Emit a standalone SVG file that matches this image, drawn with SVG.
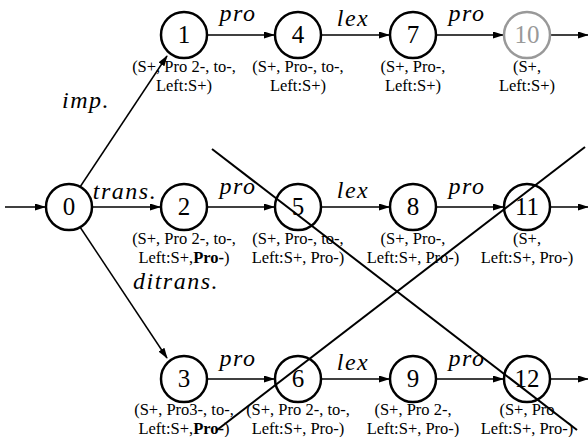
<svg xmlns="http://www.w3.org/2000/svg" width="588" height="437" viewBox="0 0 588 437">
<defs>
<marker id="ah" markerWidth="11" markerHeight="7" refX="10" refY="3.5" orient="auto" markerUnits="userSpaceOnUse">
<path d="M0,0 L11,3.5 L0,7 z" fill="#000"/>
</marker>
<style>
.n{fill:#fff;stroke:#000;stroke-width:2.5}
.g{fill:#fff;stroke:#999;stroke-width:2.5}
.d{font-family:"Liberation Serif",serif;font-size:25px;text-anchor:middle;fill:#000}
.dg{font-family:"Liberation Serif",serif;font-size:25px;text-anchor:middle;fill:#999}
.s{font-family:"Liberation Serif",serif;font-size:16.5px;text-anchor:middle;fill:#000}
.e{font-family:"Liberation Serif",serif;font-size:24px;font-style:italic;text-anchor:middle;letter-spacing:1.5px;fill:#000}
.a{stroke:#000;stroke-width:1.5;fill:none;marker-end:url(#ah)}
.x{stroke:#000;stroke-width:2;fill:none}
</style>
</defs>
<g id="connectors">
<line class="a" x1="5" y1="207" x2="45" y2="207"/>
<line class="a" x1="80" y1="187" x2="167" y2="56"/>
<line class="a" x1="92" y1="207" x2="160" y2="207"/>
<line class="a" x1="80" y1="227" x2="167" y2="358"/>
<line class="a" x1="207" y1="35" x2="274" y2="35"/>
<line class="a" x1="321" y1="35" x2="389" y2="35"/>
<line class="a" x1="436" y1="35" x2="503" y2="35"/>
<line class="a" x1="550" y1="35" x2="588" y2="35"/>
<line class="a" x1="207" y1="207" x2="274" y2="207"/>
<line class="a" x1="321" y1="207" x2="389" y2="207"/>
<line class="a" x1="436" y1="207" x2="503" y2="207"/>
<line class="a" x1="550" y1="207" x2="588" y2="207"/>
<line class="a" x1="207" y1="379" x2="274" y2="379"/>
<line class="a" x1="321" y1="379" x2="389" y2="379"/>
<line class="a" x1="436" y1="379" x2="503" y2="379"/>
<line class="a" x1="550" y1="379" x2="588" y2="379"/>
<text class="e" x="86" y="108">imp.</text>
<text class="e" x="125" y="199">trans.</text>
<text class="e" x="176" y="289">ditrans.</text>
<text class="e" x="238" y="21">pro</text>
<text class="e" x="353" y="26">lex</text>
<text class="e" x="467" y="21">pro</text>
<text class="e" x="238" y="194">pro</text>
<text class="e" x="353" y="198">lex</text>
<text class="e" x="467" y="194">pro</text>
<text class="e" x="238" y="366">pro</text>
<text class="e" x="353" y="370">lex</text>
<text class="e" x="467" y="366">pro</text>
</g>
<g id="n0"><circle class="n" cx="69" cy="207" r="23"/><text class="d" x="69" y="215">0</text></g>
<g id="n1"><circle class="n" cx="184" cy="35" r="23"/><text class="d" x="184" y="43">1</text><text class="s" x="184" y="72">(S+, Pro 2-, to-,</text><text class="s" x="184" y="91">Left:S+)</text></g>
<g id="n4"><circle class="n" cx="298" cy="35" r="23"/><text class="d" x="298" y="43">4</text><text class="s" x="298" y="72">(S+, Pro-, to-,</text><text class="s" x="298" y="91">Left:S+)</text></g>
<g id="n7"><circle class="n" cx="413" cy="35" r="23"/><text class="d" x="413" y="43">7</text><text class="s" x="413" y="72">(S+, Pro-,</text><text class="s" x="413" y="91">Left:S+)</text></g>
<g id="n10"><circle class="g" cx="527" cy="35" r="23"/><text class="dg" x="527" y="43">10</text><text class="s" x="527" y="72">(S+,</text><text class="s" x="527" y="91">Left:S+)</text></g>
<g id="n2"><circle class="n" cx="184" cy="207" r="23"/><text class="d" x="184" y="215">2</text><text class="s" x="184" y="244">(S+, Pro 2-, to-,</text><text class="s" x="184" y="263">Left:S+,<tspan font-weight="bold">Pro-</tspan>)</text></g>
<g id="n5"><circle class="n" cx="298" cy="207" r="23"/><text class="d" x="298" y="215">5</text><text class="s" x="298" y="244">(S+, Pro-, to-,</text><text class="s" x="298" y="263">Left:S+, Pro-)</text></g>
<g id="n8"><circle class="n" cx="413" cy="207" r="23"/><text class="d" x="413" y="215">8</text><text class="s" x="413" y="244">(S+, Pro-,</text><text class="s" x="413" y="263">Left:S+, Pro-)</text></g>
<g id="n11"><circle class="n" cx="527" cy="207" r="23"/><text class="d" x="527" y="215">11</text><text class="s" x="527" y="244">(S+,</text><text class="s" x="527" y="263">Left:S+, Pro-)</text></g>
<g id="n3"><circle class="n" cx="184" cy="379" r="23"/><text class="d" x="184" y="387">3</text><text class="s" x="184" y="415">(S+, Pro3-, to-,</text><text class="s" x="184" y="434">Left:S+,<tspan font-weight="bold">Pro-</tspan>)</text></g>
<g id="n6"><circle class="n" cx="298" cy="379" r="23"/><text class="d" x="298" y="387">6</text><text class="s" x="298" y="415">(S+, Pro 2-, to-,</text><text class="s" x="298" y="434">Left:S+, Pro-)</text></g>
<g id="n9"><circle class="n" cx="413" cy="379" r="23"/><text class="d" x="413" y="387">9</text><text class="s" x="413" y="415">(S+, Pro 2-,</text><text class="s" x="413" y="434">Left:S+, Pro-)</text></g>
<g id="n12"><circle class="n" cx="527" cy="379" r="23"/><text class="d" x="527" y="387">12</text><text class="s" x="527" y="415">(S+, Pro</text><text class="s" x="527" y="434">Left:S+, Pro-)</text></g>
<g id="crosses">
<line class="x" x1="212" y1="149" x2="577" y2="430"/>
<line class="x" x1="585" y1="147" x2="217" y2="430"/>
</g>
</svg>
